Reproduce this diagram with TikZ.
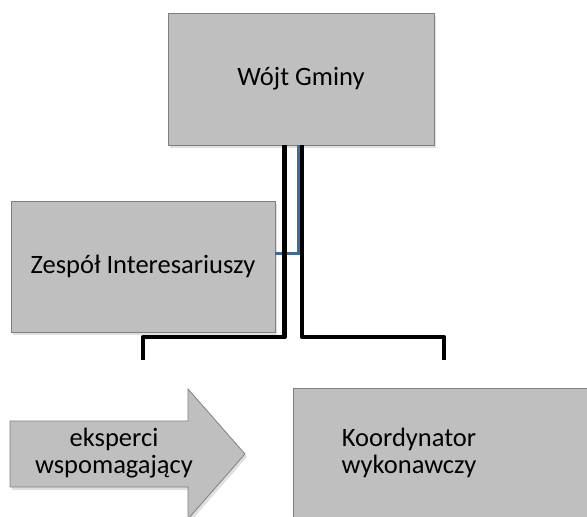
\documentclass[tikz,border=0pt]{standalone}
\usepackage{fontspec}
\setmainfont{Carlito}
\usetikzlibrary{shadows}
\definecolor{boxfill}{HTML}{BFBFBF}
\definecolor{boxline}{HTML}{808080}
\definecolor{linkblue}{HTML}{3F6A9C}
\begin{document}
\begin{tikzpicture}[x=1pt,y=-1pt,
  boxshadow/.style={drop shadow={shadow xshift=2pt,shadow yshift=-3pt,opacity=0.12,fill=black}},
  labelfont/.style={font=\fontsize{26.5}{27}\selectfont,align=center},
  orgbox/.style={draw=boxline,fill=boxfill,line width=0.8pt,rectangle,boxshadow,
     labelfont,inner sep=0pt},
  link/.style={draw=black,line width=4.5pt,line join=round},
  bluelink/.style={draw=linkblue,line width=3pt,line join=miter}]
\useasboundingbox (0,0) rectangle (587,517);
\clip (0,0) rectangle (587,517);
% boxes
\node[orgbox,minimum width=266pt,minimum height=132pt] (wojt) at (301,79) {Wójt Gminy};
\node[orgbox,minimum width=264pt,minimum height=131pt] (zespol) at (143,266.5) {Zespół Interesariuszy};
\node[orgbox,minimum width=320pt,minimum height=160pt,anchor=north west] (koord) at (293,388) {};
\node[labelfont] (koordtext) at (409,453) {Koordynator\\wykonawczy};
% arrow
\path[draw=boxline,fill=boxfill,line width=0.8pt,boxshadow]
  (10,421) -- (188,421) -- (188,389) -- (245,454) -- (188,519) -- (188,487) -- (10,487) -- cycle;
\node[labelfont] (eksp) at (114,453) {eksperci\\wspomagający};
% connectors
\coordinate (bl) at (143,360);
\coordinate (br) at (444,360);
\draw[bluelink] (wojt.south -| 298.5,0) -- (298.5,253) -- (zespol.east |- 0,253);
\draw[link] (wojt.south -| 284.5,0) -- (284.5,337) -- (143,337) -- (bl);
\draw[link] (wojt.south -| 302,0) -- (302,337) -- (444,337) -- (br);
\end{tikzpicture}
\end{document}
